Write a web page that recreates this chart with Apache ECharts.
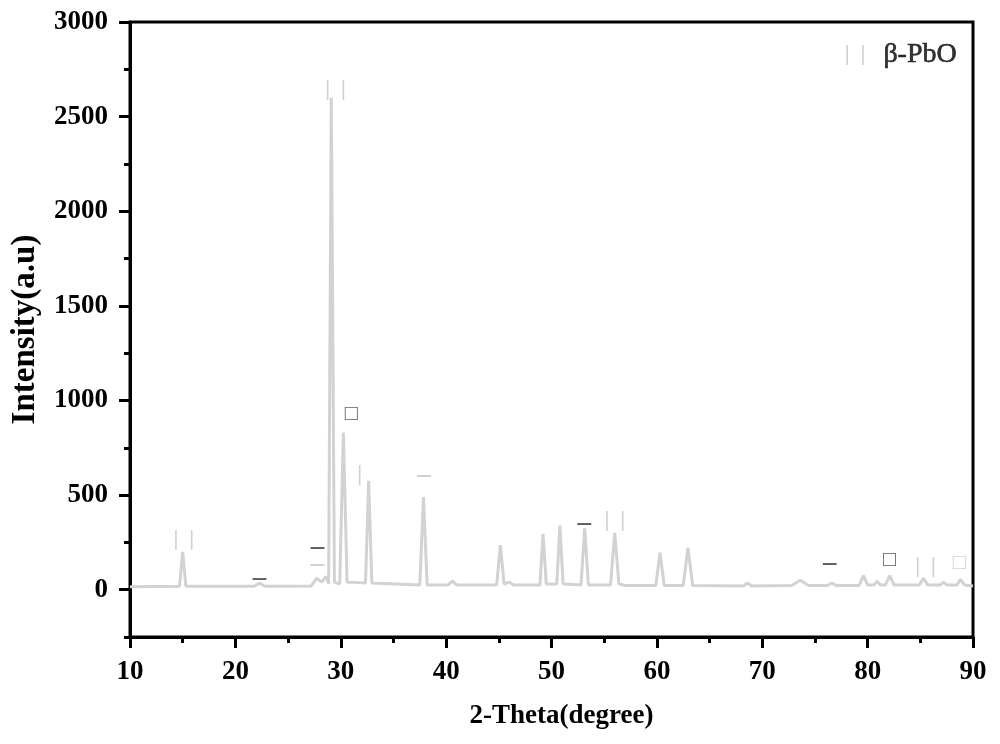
<!DOCTYPE html>
<html>
<head>
<meta charset="utf-8">
<script src="https://cdn.jsdelivr.net/npm/echarts@6/dist/echarts.min.js"></script>
<style>html,body{margin:0;padding:0;background:#fff}#c{width:1000px;height:744px}</style>
</head>
<body>
<div id="c"></div>
<script>
// ---- data ----
const twoTheta = [10,14.7,15.0,15.3,21.8,22.3,22.8,27.2,27.7,28.2,28.6,28.85,29.1,29.4,29.9,30.25,30.6,32.35,32.65,32.95,37.5,37.85,38.2,40.2,40.6,41.0,44.8,45.15,45.5,46.0,46.4,48.9,49.2,49.5,50.5,50.8,51.1,52.8,53.15,53.5,55.6,56.0,56.4,57.0,59.9,60.3,60.7,62.5,62.95,63.4,68.2,68.6,69.0,72.8,73.6,74.4,76.2,76.6,77.0,79.2,79.6,80.0,80.6,80.9,81.2,81.7,82.1,82.5,84.9,85.3,85.7,86.9,87.2,87.5,88.5,88.8,89.2,90];
const intensity = [15,18,200,18,18,35,18,20,60,40,70,30,2600,40,30,830,40,35,575,35,25,490,25,25,45,25,25,235,30,40,25,25,295,30,30,340,30,25,325,25,25,300,30,22,22,195,22,22,222,22,20,35,20,22,50,22,22,35,22,22,75,25,25,45,25,25,75,25,25,60,25,25,40,25,25,55,25,20];

const markerX = [15.1, 22.3, 27.8, 27.8, 29.5, 31.0, 31.8, 37.9, 53.1, 56.0, 76.4, 82.1, 85.5, 88.7, 78.8];
const markerY = [265, 64, 228, 138, 2643, 927, 610, 604, 350, 365, 143, 153, 122, 138, 2830];
const markerText = ['|  |', '–', '–', '–', '|  |', '□', '|', '–', '–', '|  |', '–', '□', '|  |', '□', '|  |'];
const markerDark = [false, true, true, false, false, true, false, false, true, false, true, true, false, false, false];

const xMajorTicks = [10,20,30,40,50,60,70,80,90];
const xMinorTicks = [15,25,35,45,55,65,75,85];
const yMajorTicks = [0,500,1000,1500,2000,2500,3000];
const yMinorTicks = [-250,250,750,1250,1750,2250,2750];

const legendText = 'β-PbO';
const legendPos = [81.4, 2830];

// ---- chart ----
const font = 'Liberation Serif';
const chart = echarts.init(document.getElementById('c'));
const lineData = twoTheta.map((x, i) => [x, intensity[i]]);
const markerData = markerX.map((x, i) => ({
  value: [x, markerY[i]],
  label: {
    formatter: markerText[i],
    color: markerDark[i] ? '#333333' : '#c4c4c4',
    fontSize: markerText[i] === '–' ? 27 : 22
  }
}));

const baseX = {
  type: 'value', min: 10, max: 90, position: 'bottom',
  splitLine: {show: false}
};
const baseY = {
  type: 'value', min: -250, max: 3000, position: 'left',
  splitLine: {show: false}
};

chart.setOption({
  backgroundColor: '#ffffff',
  animation: false,
  grid: {left: 130, right: 27, top: 22, bottom: 107, show: true, borderColor: '#000', borderWidth: 3, backgroundColor: 'transparent'},
  xAxis: [
    Object.assign({}, baseX, {
      name: '2-Theta(degree)', nameLocation: 'middle', nameGap: 66,
      nameTextStyle: {fontFamily: font, fontWeight: 'bold', fontSize: 27, color: '#000', padding: [0, 0, 0, 20]},
      axisLine: {show: true, onZero: false, lineStyle: {color: '#000', width: 3}},
      axisTick: {show: true, inside: false, length: 11, lineStyle: {color: '#000', width: 3}, customValues: xMajorTicks},
      axisLabel: {show: true, margin: 22, fontFamily: font, fontWeight: 'bold', fontSize: 27, color: '#000', customValues: xMajorTicks, formatter: v => String(v)}
    }),
    Object.assign({}, baseX, {
      axisLine: {show: false, onZero: false},
      axisTick: {show: true, inside: false, length: 6, lineStyle: {color: '#000', width: 3}, customValues: xMinorTicks},
      axisLabel: {show: false}
    })
  ],
  yAxis: [
    Object.assign({}, baseY, {
      name: 'Intensity(a.u)', nameLocation: 'middle', nameGap: 88,
      nameTextStyle: {fontFamily: font, fontWeight: 'bold', fontSize: 33, color: '#000'},
      axisLine: {show: true, onZero: false, lineStyle: {color: '#000', width: 3}},
      axisTick: {show: true, inside: false, length: 11, lineStyle: {color: '#000', width: 3}, customValues: yMajorTicks},
      axisLabel: {show: true, margin: 22, fontFamily: font, fontWeight: 'bold', fontSize: 27, color: '#000', customValues: yMajorTicks, formatter: v => String(v)}
    }),
    Object.assign({}, baseY, {
      axisLine: {show: false, onZero: false},
      axisTick: {show: true, inside: false, length: 6, lineStyle: {color: '#000', width: 3}, customValues: yMinorTicks},
      axisLabel: {show: false}
    })
  ],
  series: [
    {
      type: 'line', xAxisIndex: 0, yAxisIndex: 0, data: lineData,
      showSymbol: false, symbol: 'none', smooth: false,
      lineStyle: {color: '#d2d2d2', width: 3}
    },
    {
      type: 'scatter', xAxisIndex: 0, yAxisIndex: 0, data: markerData,
      symbolSize: 2, itemStyle: {color: 'rgba(255,255,255,0)'},
      label: {
        show: true, position: 'inside',
        fontFamily: font, fontWeight: 'bold'
      },
      labelLayout: {hideOverlap: false}
    },
    {
      type: 'scatter', xAxisIndex: 0, yAxisIndex: 0, data: [legendPos],
      symbolSize: 2, itemStyle: {color: 'rgba(255,255,255,0)'},
      label: {
        show: true, position: 'right', distance: 0,
        formatter: legendText,
        fontFamily: font, fontSize: 28, color: '#000',
        textBorderColor: '#000', textBorderWidth: 0.6
      }
    }
  ]
});
</script>
</body>
</html>
